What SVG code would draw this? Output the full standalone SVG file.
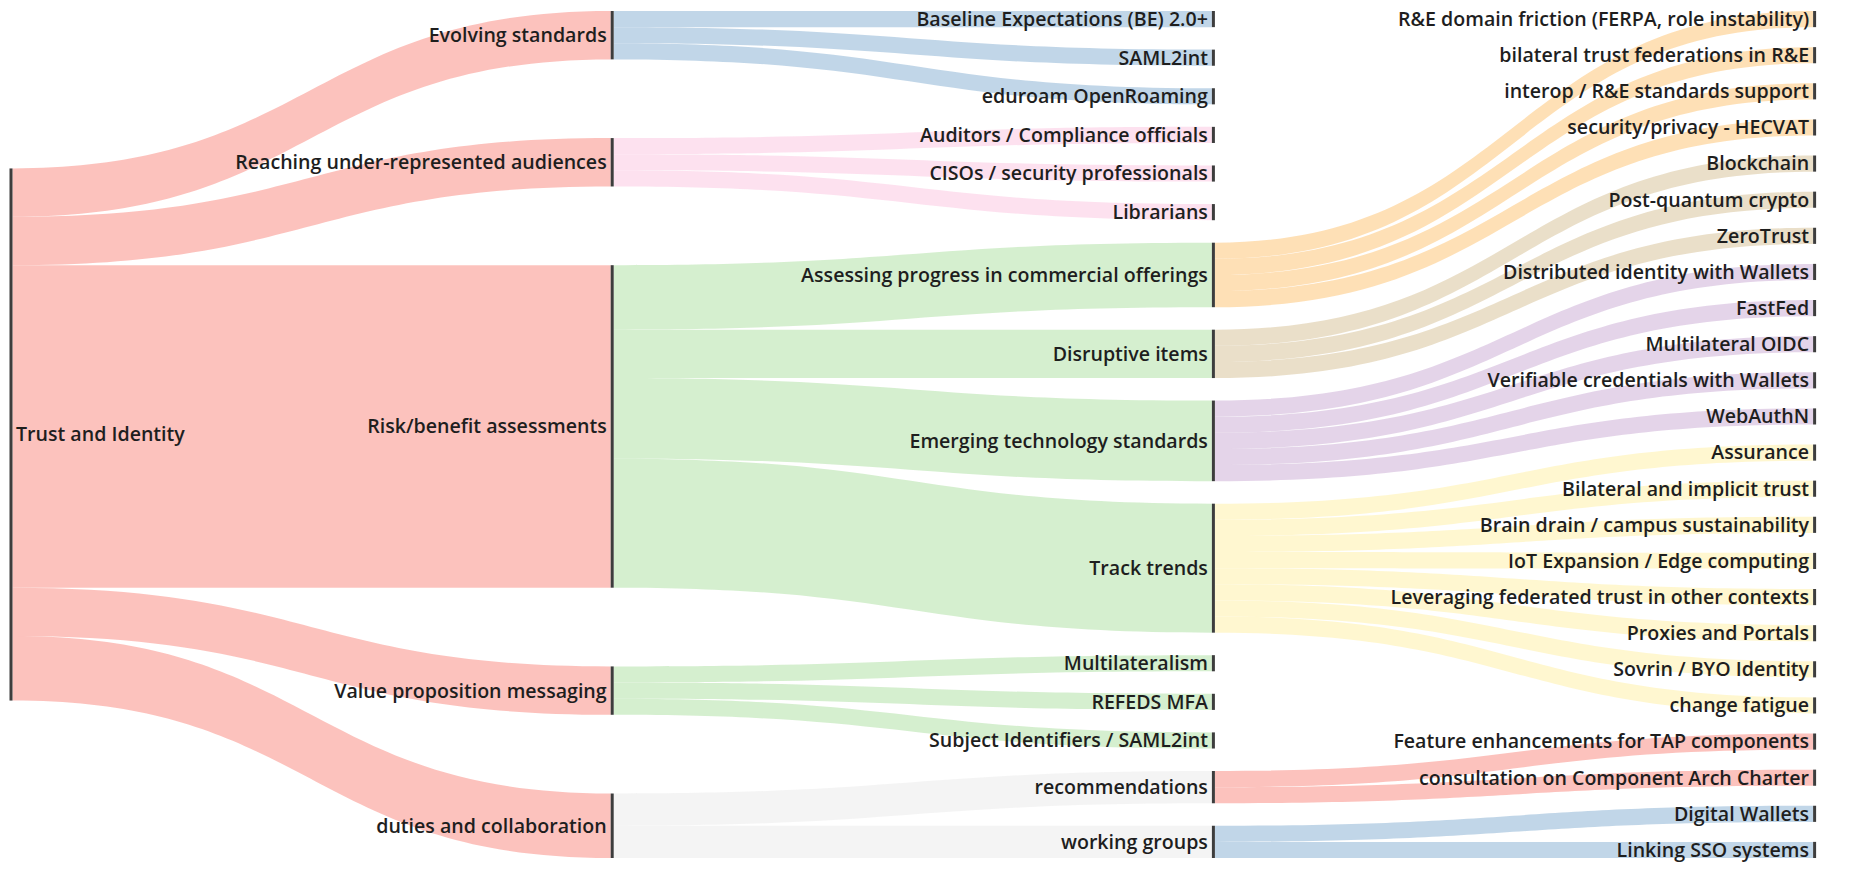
<svg xmlns="http://www.w3.org/2000/svg" width="1865" height="870" viewBox="0 0 1865 870">
<style>
.lk{stroke:none;fill-opacity:0.82}
.red{fill:#fbb4ae}.blue{fill:#b3cde3}.green{fill:#ccebc5}.pink{fill:#fddaec}.grey{fill:#f2f2f2}
.orange{fill:#fed9a6}.tan{fill:#e5d8bd}.purple{fill:#decbe4}.yellow{fill:#fff5c6}
.nd{fill:#3d3d3d}
text{font-family:"Open Sans","Noto Sans","Liberation Sans",sans-serif;font-size:19.6px;font-weight:600;fill:#1e1e1e}
.e{text-anchor:end}
</style>
<rect width="1865" height="870" fill="#fff"/>
<g id="connectors">
<path class="lk red" d="M12.5 168.44C311.6 168.44 311.6 11 610.7 11L610.7 59.38C311.6 59.38 311.6 216.81 12.5 216.81Z"/>
<path class="lk red" d="M12.5 216.81C311.6 216.81 311.6 138.09 610.7 138.09L610.7 186.47C311.6 186.47 311.6 265.19 12.5 265.19Z"/>
<path class="lk red" d="M12.5 265.19C311.6 265.19 311.6 265.19 610.7 265.19L610.7 587.69C311.6 587.69 311.6 587.69 12.5 587.69Z"/>
<path class="lk red" d="M12.5 587.69C311.6 587.69 311.6 666.41 610.7 666.41L610.7 714.78C311.6 714.78 311.6 636.06 12.5 636.06Z"/>
<path class="lk red" d="M12.5 636.06C311.6 636.06 311.6 793.5 610.7 793.5L610.7 858C311.6 858 311.6 700.56 12.5 700.56Z"/>
<path class="lk blue" d="M613.7 11C912.8 11 912.8 11 1211.9 11L1211.9 27.13C912.8 27.13 912.8 27.13 613.7 27.13Z"/>
<path class="lk blue" d="M613.7 27.13C912.8 27.13 912.8 49.62 1211.9 49.62L1211.9 65.74C912.8 65.74 912.8 43.25 613.7 43.25Z"/>
<path class="lk blue" d="M613.7 43.25C912.8 43.25 912.8 88.23 1211.9 88.23L1211.9 104.36C912.8 104.36 912.8 59.38 613.7 59.38Z"/>
<path class="lk pink" d="M613.7 138.09C912.8 138.09 912.8 126.85 1211.9 126.85L1211.9 142.97C912.8 142.97 912.8 154.22 613.7 154.22Z"/>
<path class="lk pink" d="M613.7 154.22C912.8 154.22 912.8 165.46 1211.9 165.46L1211.9 181.59C912.8 181.59 912.8 170.34 613.7 170.34Z"/>
<path class="lk pink" d="M613.7 170.34C912.8 170.34 912.8 204.08 1211.9 204.08L1211.9 220.2C912.8 220.2 912.8 186.47 613.7 186.47Z"/>
<path class="lk green" d="M613.7 265.19C912.8 265.19 912.8 242.69 1211.9 242.69L1211.9 307.19C912.8 307.19 912.8 329.69 613.7 329.69Z"/>
<path class="lk green" d="M613.7 329.69C912.8 329.69 912.8 329.68 1211.9 329.68L1211.9 378.06C912.8 378.06 912.8 378.06 613.7 378.06Z"/>
<path class="lk green" d="M613.7 378.06C912.8 378.06 912.8 400.55 1211.9 400.55L1211.9 481.18C912.8 481.18 912.8 458.69 613.7 458.69Z"/>
<path class="lk green" d="M613.7 458.69C912.8 458.69 912.8 503.67 1211.9 503.67L1211.9 632.67C912.8 632.67 912.8 587.69 613.7 587.69Z"/>
<path class="lk green" d="M613.7 666.41C912.8 666.41 912.8 655.16 1211.9 655.16L1211.9 671.29C912.8 671.29 912.8 682.53 613.7 682.53Z"/>
<path class="lk green" d="M613.7 682.53C912.8 682.53 912.8 693.78 1211.9 693.78L1211.9 709.9C912.8 709.9 912.8 698.66 613.7 698.66Z"/>
<path class="lk green" d="M613.7 698.66C912.8 698.66 912.8 732.39 1211.9 732.39L1211.9 748.52C912.8 748.52 912.8 714.78 613.7 714.78Z"/>
<path class="lk grey" d="M613.7 793.5C912.8 793.5 912.8 771.01 1211.9 771.01L1211.9 803.26C912.8 803.26 912.8 825.75 613.7 825.75Z"/>
<path class="lk grey" d="M613.7 825.75C912.8 825.75 912.8 825.75 1211.9 825.75L1211.9 858C912.8 858 912.8 858 613.7 858Z"/>
<path class="lk orange" d="M1214.9 242.69C1514 242.69 1514 11 1813.1 11L1813.1 27.13C1514 27.13 1514 258.82 1214.9 258.82Z"/>
<path class="lk orange" d="M1214.9 258.82C1514 258.82 1514 47.13 1813.1 47.13L1813.1 63.25C1514 63.25 1514 274.94 1214.9 274.94Z"/>
<path class="lk orange" d="M1214.9 274.94C1514 274.94 1514 83.25 1813.1 83.25L1813.1 99.38C1514 99.38 1514 291.07 1214.9 291.07Z"/>
<path class="lk orange" d="M1214.9 291.07C1514 291.07 1514 119.38 1813.1 119.38L1813.1 135.5C1514 135.5 1514 307.19 1214.9 307.19Z"/>
<path class="lk tan" d="M1214.9 329.68C1514 329.68 1514 155.5 1813.1 155.5L1813.1 171.63C1514 171.63 1514 345.81 1214.9 345.81Z"/>
<path class="lk tan" d="M1214.9 345.81C1514 345.81 1514 191.63 1813.1 191.63L1813.1 207.75C1514 207.75 1514 361.93 1214.9 361.93Z"/>
<path class="lk tan" d="M1214.9 361.93C1514 361.93 1514 227.75 1813.1 227.75L1813.1 243.88C1514 243.88 1514 378.06 1214.9 378.06Z"/>
<path class="lk purple" d="M1214.9 400.55C1514 400.55 1514 263.88 1813.1 263.88L1813.1 280C1514 280 1514 416.68 1214.9 416.68Z"/>
<path class="lk purple" d="M1214.9 416.68C1514 416.68 1514 300 1813.1 300L1813.1 316.13C1514 316.13 1514 432.8 1214.9 432.8Z"/>
<path class="lk purple" d="M1214.9 432.8C1514 432.8 1514 336.13 1813.1 336.13L1813.1 352.25C1514 352.25 1514 448.93 1214.9 448.93Z"/>
<path class="lk purple" d="M1214.9 448.93C1514 448.93 1514 372.25 1813.1 372.25L1813.1 388.38C1514 388.38 1514 465.05 1214.9 465.05Z"/>
<path class="lk purple" d="M1214.9 465.05C1514 465.05 1514 408.38 1813.1 408.38L1813.1 424.5C1514 424.5 1514 481.18 1214.9 481.18Z"/>
<path class="lk yellow" d="M1214.9 503.67C1514 503.67 1514 444.5 1813.1 444.5L1813.1 460.63C1514 460.63 1514 519.8 1214.9 519.8Z"/>
<path class="lk yellow" d="M1214.9 519.8C1514 519.8 1514 480.63 1813.1 480.63L1813.1 496.75C1514 496.75 1514 535.92 1214.9 535.92Z"/>
<path class="lk yellow" d="M1214.9 535.92C1514 535.92 1514 516.75 1813.1 516.75L1813.1 532.88C1514 532.88 1514 552.05 1214.9 552.05Z"/>
<path class="lk yellow" d="M1214.9 552.05C1514 552.05 1514 552.88 1813.1 552.88L1813.1 569C1514 569 1514 568.17 1214.9 568.17Z"/>
<path class="lk yellow" d="M1214.9 568.17C1514 568.17 1514 589 1813.1 589L1813.1 605.13C1514 605.13 1514 584.3 1214.9 584.3Z"/>
<path class="lk yellow" d="M1214.9 584.3C1514 584.3 1514 625.13 1813.1 625.13L1813.1 641.25C1514 641.25 1514 600.42 1214.9 600.42Z"/>
<path class="lk yellow" d="M1214.9 600.42C1514 600.42 1514 661.25 1813.1 661.25L1813.1 677.38C1514 677.38 1514 616.55 1214.9 616.55Z"/>
<path class="lk yellow" d="M1214.9 616.55C1514 616.55 1514 697.38 1813.1 697.38L1813.1 713.5C1514 713.5 1514 632.67 1214.9 632.67Z"/>
<path class="lk red" d="M1214.9 771.01C1514 771.01 1514 733.5 1813.1 733.5L1813.1 749.63C1514 749.63 1514 787.14 1214.9 787.14Z"/>
<path class="lk red" d="M1214.9 787.14C1514 787.14 1514 769.63 1813.1 769.63L1813.1 785.75C1514 785.75 1514 803.26 1214.9 803.26Z"/>
<path class="lk blue" d="M1214.9 825.75C1514 825.75 1514 805.75 1813.1 805.75L1813.1 821.88C1514 821.88 1514 841.88 1214.9 841.88Z"/>
<path class="lk blue" d="M1214.9 841.88C1514 841.88 1514 841.88 1813.1 841.88L1813.1 858C1514 858 1514 858 1214.9 858Z"/>
</g>
<g id="node-trust"><rect class="nd" x="9.5" y="168.44" width="3" height="532.12"/><text x="16" y="441.3">Trust and Identity</text></g>
<g id="node-evolving"><rect class="nd" x="610.7" y="11" width="3" height="48.38"/><text class="e" x="606.7" y="42">Evolving standards</text></g>
<g id="node-reaching"><rect class="nd" x="610.7" y="138.09" width="3" height="48.38"/><text class="e" x="606.7" y="169.1">Reaching under-represented audiences</text></g>
<g id="node-risk"><rect class="nd" x="610.7" y="265.19" width="3" height="322.5"/><text class="e" x="606.7" y="433.3">Risk/benefit assessments</text></g>
<g id="node-value"><rect class="nd" x="610.7" y="666.41" width="3" height="48.38"/><text class="e" x="606.7" y="697.5">Value proposition messaging</text></g>
<g id="node-duties"><rect class="nd" x="610.7" y="793.5" width="3" height="64.5"/><text class="e" x="606.7" y="832.6">duties and collaboration</text></g>
<g id="node-baseline"><rect class="nd" x="1211.9" y="11" width="3" height="16.13"/><text class="e" x="1207.9" y="25.9">Baseline Expectations (BE) 2.0+</text></g>
<g id="node-saml2int"><rect class="nd" x="1211.9" y="49.62" width="3" height="16.13"/><text class="e" x="1207.9" y="64.5">SAML2int</text></g>
<g id="node-eduroam"><rect class="nd" x="1211.9" y="88.23" width="3" height="16.13"/><text class="e" x="1207.9" y="103.2">eduroam OpenRoaming</text></g>
<g id="node-auditors"><rect class="nd" x="1211.9" y="126.85" width="3" height="16.13"/><text class="e" x="1207.9" y="141.8">Auditors / Compliance officials</text></g>
<g id="node-cisos"><rect class="nd" x="1211.9" y="165.46" width="3" height="16.13"/><text class="e" x="1207.9" y="180.4">CISOs / security professionals</text></g>
<g id="node-librarians"><rect class="nd" x="1211.9" y="204.08" width="3" height="16.13"/><text class="e" x="1207.9" y="219">Librarians</text></g>
<g id="node-assessing"><rect class="nd" x="1211.9" y="242.69" width="3" height="64.5"/><text class="e" x="1207.9" y="281.8">Assessing progress in commercial offerings</text></g>
<g id="node-disruptive"><rect class="nd" x="1211.9" y="329.68" width="3" height="48.38"/><text class="e" x="1207.9" y="360.7">Disruptive items</text></g>
<g id="node-emerging"><rect class="nd" x="1211.9" y="400.55" width="3" height="80.63"/><text class="e" x="1207.9" y="447.7">Emerging technology standards</text></g>
<g id="node-track"><rect class="nd" x="1211.9" y="503.67" width="3" height="129"/><text class="e" x="1207.9" y="575">Track trends</text></g>
<g id="node-multilateralism"><rect class="nd" x="1211.9" y="655.16" width="3" height="16.13"/><text class="e" x="1207.9" y="670.1">Multilateralism</text></g>
<g id="node-refeds"><rect class="nd" x="1211.9" y="693.78" width="3" height="16.13"/><text class="e" x="1207.9" y="708.7">REFEDS MFA</text></g>
<g id="node-subject"><rect class="nd" x="1211.9" y="732.39" width="3" height="16.13"/><text class="e" x="1207.9" y="747.3">Subject Identifiers / SAML2int</text></g>
<g id="node-recommendations"><rect class="nd" x="1211.9" y="771.01" width="3" height="32.25"/><text class="e" x="1207.9" y="794">recommendations</text></g>
<g id="node-working"><rect class="nd" x="1211.9" y="825.75" width="3" height="32.25"/><text class="e" x="1207.9" y="848.7">working groups</text></g>
<g id="node-re-friction"><rect class="nd" x="1813.1" y="11" width="3" height="16.13"/><text class="e" x="1809.1" y="25.9">R&amp;E domain friction (FERPA, role instability)</text></g>
<g id="node-bilateral-fed"><rect class="nd" x="1813.1" y="47.13" width="3" height="16.13"/><text class="e" x="1809.1" y="62">bilateral trust federations in R&amp;E</text></g>
<g id="node-interop"><rect class="nd" x="1813.1" y="83.25" width="3" height="16.13"/><text class="e" x="1809.1" y="98.2">interop / R&amp;E standards support</text></g>
<g id="node-hecvat"><rect class="nd" x="1813.1" y="119.38" width="3" height="16.13"/><text class="e" x="1809.1" y="134.3">security/privacy - HECVAT</text></g>
<g id="node-blockchain"><rect class="nd" x="1813.1" y="155.5" width="3" height="16.13"/><text class="e" x="1809.1" y="170.4">Blockchain</text></g>
<g id="node-pqc"><rect class="nd" x="1813.1" y="191.63" width="3" height="16.13"/><text class="e" x="1809.1" y="206.5">Post-quantum crypto</text></g>
<g id="node-zerotrust"><rect class="nd" x="1813.1" y="227.75" width="3" height="16.13"/><text class="e" x="1809.1" y="242.7">ZeroTrust</text></g>
<g id="node-distributed"><rect class="nd" x="1813.1" y="263.88" width="3" height="16.13"/><text class="e" x="1809.1" y="278.8">Distributed identity with Wallets</text></g>
<g id="node-fastfed"><rect class="nd" x="1813.1" y="300" width="3" height="16.13"/><text class="e" x="1809.1" y="314.9">FastFed</text></g>
<g id="node-moidc"><rect class="nd" x="1813.1" y="336.13" width="3" height="16.13"/><text class="e" x="1809.1" y="351">Multilateral OIDC</text></g>
<g id="node-verifiable"><rect class="nd" x="1813.1" y="372.25" width="3" height="16.13"/><text class="e" x="1809.1" y="387.2">Verifiable credentials with Wallets</text></g>
<g id="node-webauthn"><rect class="nd" x="1813.1" y="408.38" width="3" height="16.13"/><text class="e" x="1809.1" y="423.3">WebAuthN</text></g>
<g id="node-assurance"><rect class="nd" x="1813.1" y="444.5" width="3" height="16.13"/><text class="e" x="1809.1" y="459.4">Assurance</text></g>
<g id="node-bilateral-implicit"><rect class="nd" x="1813.1" y="480.63" width="3" height="16.13"/><text class="e" x="1809.1" y="495.5">Bilateral and implicit trust</text></g>
<g id="node-brain-drain"><rect class="nd" x="1813.1" y="516.75" width="3" height="16.13"/><text class="e" x="1809.1" y="531.7">Brain drain / campus sustainability</text></g>
<g id="node-iot"><rect class="nd" x="1813.1" y="552.88" width="3" height="16.13"/><text class="e" x="1809.1" y="567.8">IoT Expansion / Edge computing</text></g>
<g id="node-leveraging"><rect class="nd" x="1813.1" y="589" width="3" height="16.13"/><text class="e" x="1809.1" y="603.9">Leveraging federated trust in other contexts</text></g>
<g id="node-proxies"><rect class="nd" x="1813.1" y="625.13" width="3" height="16.13"/><text class="e" x="1809.1" y="640">Proxies and Portals</text></g>
<g id="node-sovrin"><rect class="nd" x="1813.1" y="661.25" width="3" height="16.13"/><text class="e" x="1809.1" y="676.2">Sovrin / BYO Identity</text></g>
<g id="node-change-fatigue"><rect class="nd" x="1813.1" y="697.38" width="3" height="16.13"/><text class="e" x="1809.1" y="712.3">change fatigue</text></g>
<g id="node-feature"><rect class="nd" x="1813.1" y="733.5" width="3" height="16.13"/><text class="e" x="1809.1" y="748.4">Feature enhancements for TAP components</text></g>
<g id="node-consultation"><rect class="nd" x="1813.1" y="769.63" width="3" height="16.13"/><text class="e" x="1809.1" y="784.5">consultation on Component Arch Charter</text></g>
<g id="node-digital-wallets"><rect class="nd" x="1813.1" y="805.75" width="3" height="16.13"/><text class="e" x="1809.1" y="820.7">Digital Wallets</text></g>
<g id="node-linking-sso"><rect class="nd" x="1813.1" y="841.88" width="3" height="16.13"/><text class="e" x="1809.1" y="856.8">Linking SSO systems</text></g>
</svg>
